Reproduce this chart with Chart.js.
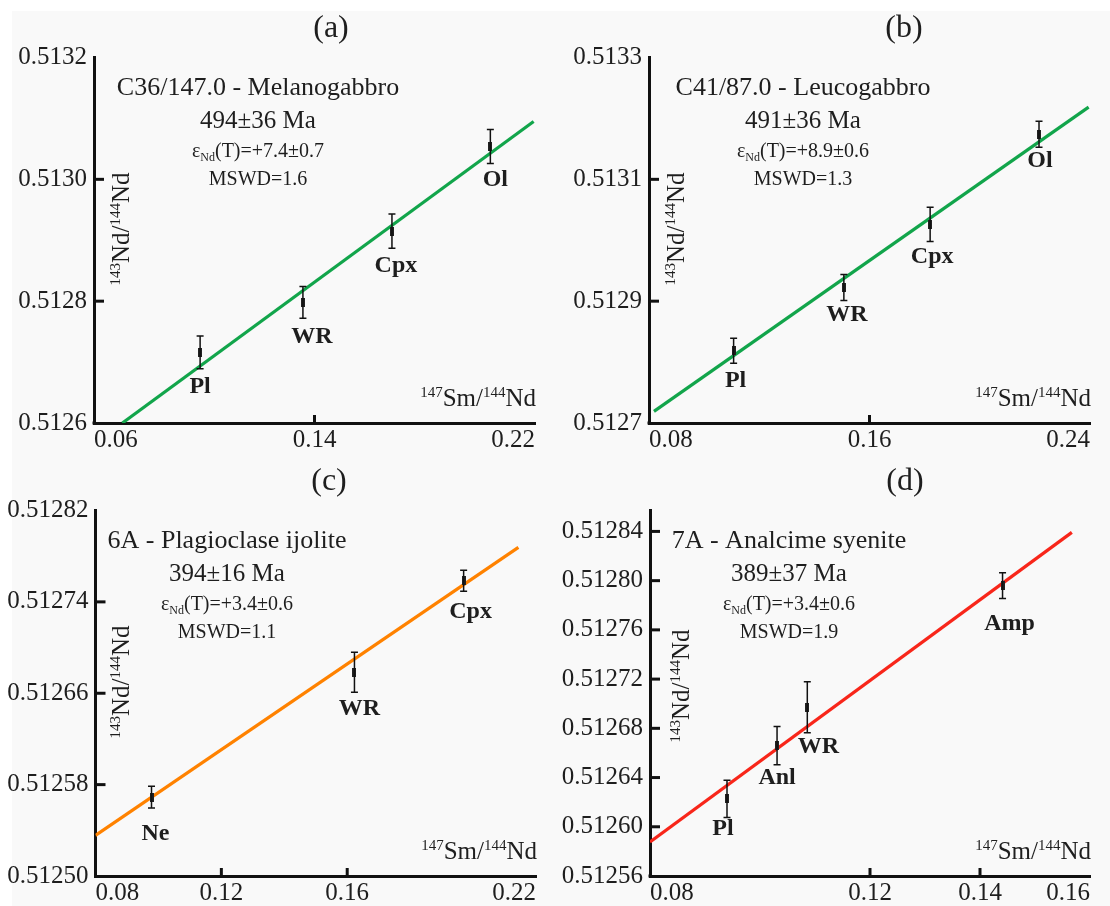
<!DOCTYPE html>
<html>
<head>
<meta charset="utf-8">
<script src="https://cdn.jsdelivr.net/npm/chart.js@4.4.1/dist/chart.umd.min.js"></script>
<style>
  body { margin: 0; background: #fff; }
  #wrap { position: relative; width: 1110px; height: 906px; overflow: hidden; }
  #bg { position: absolute; left: 12px; top: 11px; right: 0; bottom: 0; background: #f9f9f9; }
  canvas { position: absolute; }
</style>
</head>
<body>
<div id="wrap">
  <div id="bg"></div>
  <canvas id="chartA" width="555" height="453" style="left:0;top:0"></canvas>
  <canvas id="chartB" width="555" height="453" style="left:555px;top:0"></canvas>
  <canvas id="chartC" width="555" height="453" style="left:0;top:453px"></canvas>
  <canvas id="chartD" width="555" height="453" style="left:555px;top:453px"></canvas>
</div>
<script>
// (a) C36/147.0 - Melanogabbro
var aNames = ['Pl', 'WR', 'Cpx', 'Ol'];
var aX = [0.0985, 0.1358, 0.1681, 0.2038];
var aY = [0.512716, 0.512798, 0.512915, 0.513054];
var aErr = [0.000027, 0.000026, 0.000028, 0.000028];
var aLineX = [0.0703, 0.2195];
var aLineY = [0.5126, 0.513095];
var aXTicks = [0.06, 0.14, 0.22];
var aYTicks = [0.5126, 0.5128, 0.5130, 0.5132];
var aInfo = ['C36/147.0 - Melanogabbro', '494±36 Ma', '(T)=+7.4±0.7', 'MSWD=1.6'];

// (b) C41/87.0 - Leucogabbro
var bNames = ['Pl', 'WR', 'Cpx', 'Ol'];
var bX = [0.1107, 0.1507, 0.182, 0.2215];
var bY = [0.5128185, 0.5129224, 0.513026, 0.513174];
var bErr = [0.0000205, 0.0000213, 0.000028, 0.0000213];
var bLineX = [0.0818, 0.2395];
var bLineY = [0.512719, 0.5132185];
var bXTicks = [0.08, 0.16, 0.24];
var bYTicks = [0.5127, 0.5129, 0.5131, 0.5133];
var bInfo = ['C41/87.0 - Leucogabbro', '491±36 Ma', '(T)=+8.9±0.6', 'MSWD=1.3'];

// (c) 6A - Plagioclase ijolite
var cNames = ['Ne', 'WR', 'Cpx'];
var cX = [0.0978, 0.1623, 0.197];
var cY = [0.512569, 0.5126784, 0.5127585];
var cErr = [0.0000095, 0.0000175, 0.0000092];
var cLineX = [0.08, 0.2144];
var cLineY = [0.5125356, 0.5127877];
var cXTicks = [0.08, 0.12, 0.16, 0.22];
var cYTicks = [0.5125, 0.51258, 0.51266, 0.51274, 0.51282];
var cInfo = ['6A - Plagioclase ijolite', '394±16 Ma', '(T)=+3.4±0.6', 'MSWD=1.1'];

// (d) 7A - Analcime syenite
var dNames = ['Pl', 'Anl', 'WR', 'Amp'];
var dX = [0.0940, 0.1031, 0.1086, 0.1441];
var dY = [0.5126227, 0.512666, 0.5126972, 0.512796];
var dErr = [0.0000152, 0.0000155, 0.0000207, 0.0000105];
var dLineX = [0.08, 0.1567];
var dLineY = [0.5125876, 0.5128392];
var dXTicks = [0.08, 0.12, 0.14, 0.16];
var dYTicks = [0.51256, 0.5126, 0.51264, 0.51268, 0.51272, 0.51276, 0.5128, 0.51284];
var dYMax = 0.512857;
var dInfo = ['7A - Analcime syenite', '389±37 Ma', '(T)=+3.4±0.6', 'MSWD=1.9'];

var FONT = '"Liberation Serif", "Times New Roman", serif';
var INK = '#1e1e1e';

var panels = [
  { id: 'chartA', letter: '(a)', color: '#12a54b', names: aNames, x: aX, y: aY, err: aErr, lineX: aLineX, lineY: aLineY,
    xTicks: aXTicks, yTicks: aYTicks, yMax: 0.5132, dec: 4, info: aInfo,
    left: 94, right: 535, letterX: 331, infoX: 258, yTitleX: 129, yTitleY: 229,
    offs: [[0, 34], [9, 34], [4, 35], [5, 33]] },
  { id: 'chartB', letter: '(b)', color: '#12a54b', names: bNames, x: bX, y: bY, err: bErr, lineX: bLineX, lineY: bLineY,
    xTicks: bXTicks, yTicks: bYTicks, yMax: 0.5133, dec: 4, info: bInfo,
    left: 94, right: 535, letterX: 349, infoX: 248, yTitleX: 129, yTitleY: 229,
    offs: [[2, 30], [3, 27], [2, 32], [1, 27]] },
  { id: 'chartC', letter: '(c)', color: '#ff8200', names: cNames, x: cX, y: cY, err: cErr, lineX: cLineX, lineY: cLineY,
    xTicks: cXTicks, yTicks: cYTicks, yMax: 0.51282, dec: 5, info: cInfo,
    left: 95.5, right: 536, letterX: 329, infoX: 227, yTitleX: 129, yTitleY: 229,
    offs: [[4, 37], [5, 37], [7, 31]] },
  { id: 'chartD', letter: '(d)', color: '#f8261a', names: dNames, x: dX, y: dY, err: dErr, lineX: dLineX, lineY: dLineY,
    xTicks: dXTicks, yTicks: dYTicks, yMax: dYMax, dec: 5, info: dInfo,
    left: 95, right: 535, letterX: 350, infoX: 234, yTitleX: 134, yTitleY: 233,
    offs: [[-4, 30], [0, 32], [11, 40], [7, 38]] }
];

// small dark rectangle used as the point marker
var marker = document.createElement('canvas');
marker.width = 4;
marker.height = 9;
var mctx = marker.getContext('2d');
mctx.fillStyle = '#222';
mctx.fillRect(0, 0, 4, 9);

function rich(ctx, parts, x, y, align) {
  var w = 0;
  parts.forEach(function(p) { ctx.font = p[1]; w += ctx.measureText(p[0]).width; });
  var cx = align === 'center' ? x - w / 2 : (align === 'right' ? x - w : x);
  ctx.textAlign = 'left';
  ctx.textBaseline = 'alphabetic';
  parts.forEach(function(p) {
    ctx.font = p[1];
    ctx.fillText(p[0], cx, y + (p[2] || 0));
    cx += ctx.measureText(p[0]).width;
  });
}

function makePlugin(p) {
  return {
    id: 'iso' + p.id,
    afterDatasetsDraw: function(chart) {
      var ctx = chart.ctx, xs = chart.scales.x, ys = chart.scales.y;
      ctx.save();
      ctx.strokeStyle = '#111';
      ctx.lineWidth = 1.5;
      p.x.forEach(function(v, i) {
        var px = xs.getPixelForValue(v);
        var t = ys.getPixelForValue(p.y[i] + p.err[i]);
        var b = ys.getPixelForValue(p.y[i] - p.err[i]);
        ctx.beginPath();
        ctx.moveTo(px, t); ctx.lineTo(px, b);
        ctx.moveTo(px - 3.5, t); ctx.lineTo(px + 3.5, t);
        ctx.moveTo(px - 3.5, b); ctx.lineTo(px + 3.5, b);
        ctx.stroke();
      });
      ctx.restore();
    },
    afterDraw: function(chart) {
      var ctx = chart.ctx, xs = chart.scales.x, ys = chart.scales.y, area = chart.chartArea;
      ctx.save();
      // inward tick marks
      ctx.strokeStyle = '#111';
      ctx.lineWidth = 3;
      ys.ticks.forEach(function(t) {
        if (t.value <= ys.min || t.value >= ys.max) return;
        var py = ys.getPixelForValue(t.value);
        ctx.beginPath(); ctx.moveTo(area.left, py); ctx.lineTo(area.left + 10, py); ctx.stroke();
      });
      xs.ticks.forEach(function(t) {
        if (t.value <= xs.min || t.value >= xs.max) return;
        var px = xs.getPixelForValue(t.value);
        ctx.beginPath(); ctx.moveTo(px, area.bottom); ctx.lineTo(px, area.bottom - 8); ctx.stroke();
      });
      ctx.fillStyle = '#111';
      ctx.fillRect(area.left - 1.5, area.bottom - 1.5, 3, 3);

      ctx.fillStyle = INK;
      // panel letter
      rich(ctx, [[p.letter, '32px ' + FONT]], p.letterX, 37, 'center');
      // sample info
      rich(ctx, [[p.info[0], '26px ' + FONT]], p.infoX, 95, 'center');
      rich(ctx, [[p.info[1], '25px ' + FONT]], p.infoX, 128, 'center');
      rich(ctx, [['ε', '20px ' + FONT], ['Nd', '12px ' + FONT, 4], [p.info[2], '20px ' + FONT]], p.infoX, 157, 'center');
      rich(ctx, [[p.info[3], '20px ' + FONT]], p.infoX, 184.5, 'center');
      // x axis title
      rich(ctx, [['147', '15px ' + FONT, -9], ['Sm/', '25px ' + FONT], ['144', '15px ' + FONT, -9], ['Nd', '25px ' + FONT]], area.right + 1, 406, 'right');
      // y axis title
      ctx.save();
      ctx.translate(p.yTitleX, p.yTitleY);
      ctx.rotate(-Math.PI / 2);
      rich(ctx, [['143', '15px ' + FONT, -9], ['Nd/', '25px ' + FONT], ['144', '15px ' + FONT, -9], ['Nd', '25px ' + FONT]], 0, 0, 'center');
      ctx.restore();
      // mineral labels
      ctx.font = 'bold 24px ' + FONT;
      ctx.textAlign = 'center';
      ctx.textBaseline = 'middle';
      p.names.forEach(function(n, i) {
        var px = xs.getPixelForValue(p.x[i]) + p.offs[i][0];
        var py = ys.getPixelForValue(p.y[i]) + p.offs[i][1];
        ctx.fillText(n, px, py);
      });
      ctx.restore();
    }
  };
}

panels.forEach(function(p) {
  new Chart(document.getElementById(p.id), {
    type: 'scatter',
    data: {
      datasets: [
        {
          data: p.x.map(function(v, i) { return { x: v, y: p.y[i] }; }),
          pointStyle: marker,
          pointRadius: 4,
          showLine: false
        },
        {
          data: p.lineX.map(function(v, i) { return { x: v, y: p.lineY[i] }; }),
          showLine: true,
          borderColor: p.color,
          borderWidth: 3.2,
          pointRadius: 0,
          fill: false
        }
      ]
    },
    options: {
      responsive: false,
      animation: false,
      events: [],
      layout: { padding: { left: 0, top: 57.5, right: 555 - p.right, bottom: 0 } },
      plugins: { legend: { display: false }, tooltip: { enabled: false } },
      scales: {
        x: {
          type: 'linear',
          min: p.xTicks[0],
          max: p.xTicks[p.xTicks.length - 1],
          afterBuildTicks: function(s) { s.ticks = p.xTicks.map(function(v) { return { value: v }; }); },
          afterFit: function(s) { s.height = 30; s.paddingLeft = 0; s.paddingRight = 0; },
          ticks: {
            font: { family: FONT, size: 25 }, color: INK, padding: 2,
            maxRotation: 0, autoSkip: false, align: 'inner',
            callback: function(v) { return v.toFixed(2); }
          },
          grid: { display: true, drawOnChartArea: false, drawTicks: false, color: 'rgba(0,0,0,0)' },
          border: { display: true, width: 3, color: '#111' }
        },
        y: {
          type: 'linear',
          min: p.yTicks[0],
          max: p.yMax,
          afterBuildTicks: function(s) { s.ticks = p.yTicks.map(function(v) { return { value: v }; }); },
          afterFit: function(s) { s.width = p.left; s.paddingTop = 0; s.paddingBottom = 0; },
          ticks: {
            font: { family: FONT, size: 25 }, color: INK, padding: 7, autoSkip: false,
            callback: function(v) { return v.toFixed(p.dec); }
          },
          grid: { display: true, drawOnChartArea: false, drawTicks: false, color: 'rgba(0,0,0,0)' },
          border: { display: true, width: 3, color: '#111' }
        }
      }
    },
    plugins: [makePlugin(p)]
  });
});
</script>
</body>
</html>
